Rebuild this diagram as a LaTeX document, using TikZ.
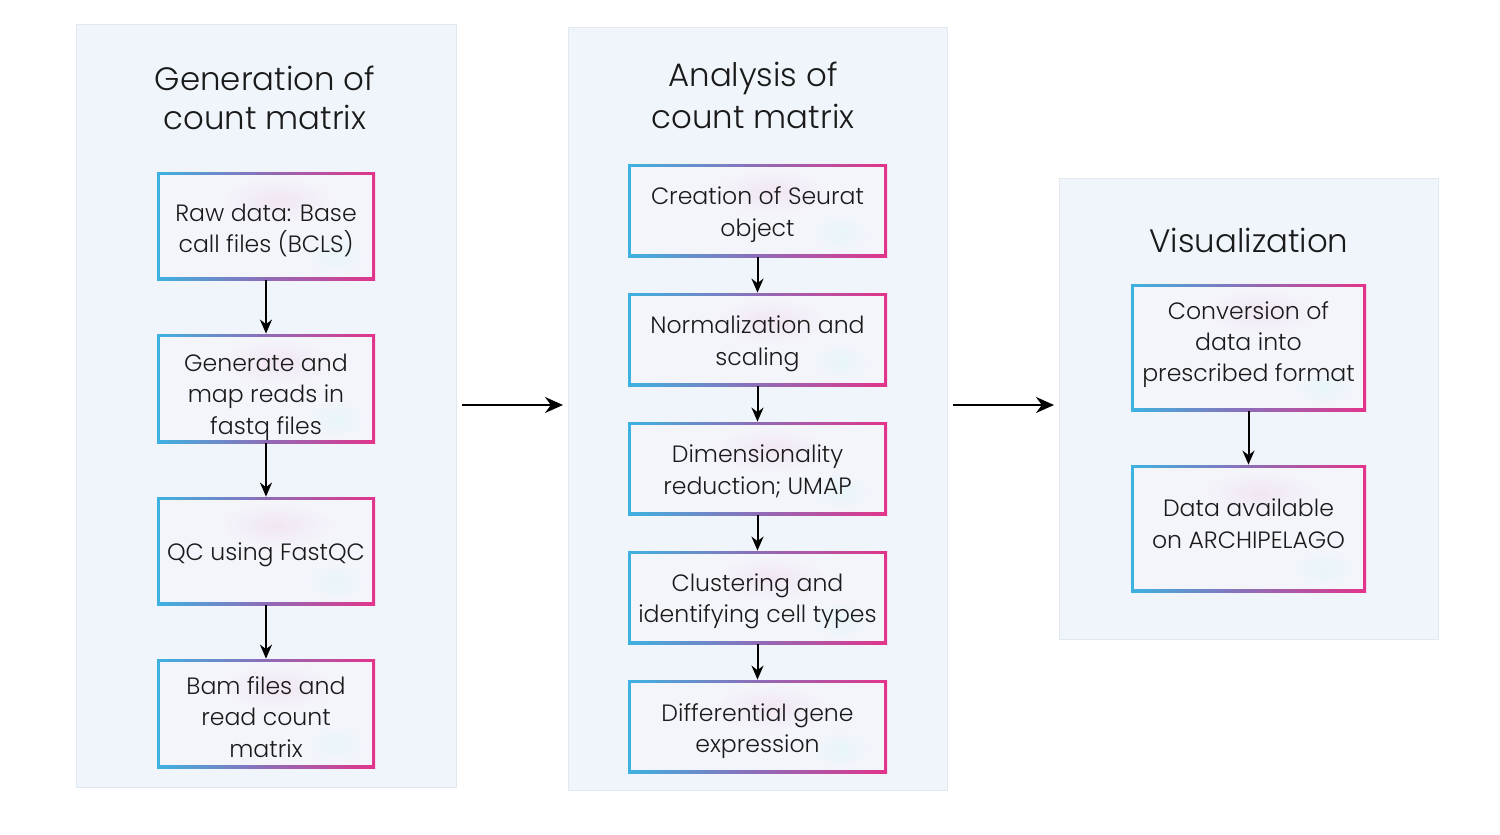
\documentclass[tikz,border=0pt]{standalone}
\usepackage{fontspec}
\setmainfont{Poppins}[UprightFont=* Light]
\usetikzlibrary{arrows.meta,calc}
\definecolor{gbl}{HTML}{3DB2E0}
\definecolor{gbm}{HTML}{8E6CB8}
\definecolor{gbr}{HTML}{E2348A}
\definecolor{panelfill}{HTML}{F0F5FC}
\definecolor{paneldraw}{HTML}{E2E8F0}
\definecolor{boxfill}{HTML}{F4F5FB}
\definecolor{blotp}{HTML}{F1E6F3}
\definecolor{blotc}{HTML}{E7F5F9}
\definecolor{txt}{HTML}{1A1A1A}
\newcommand\dnsh[1]{\rule{0pt}{\dimexpr 9.2pt+2\dimexpr #1\relax\relax}}
\newcommand\upsh[1]{\rule[-\dimexpr 3pt+2\dimexpr #1\relax\relax]{0pt}{0pt}}
\tikzset{
  panel/.style={fill=panelfill,draw=paneldraw,line width=0.5pt},
  ptitle/.style={text=txt,font=\fontsize{16.2}{19.8}\selectfont,align=center,inner sep=0pt},
  gbox/.style={left color=gbl,right color=gbr,middle color=gbm,inner sep=0pt,
    text=txt,font=\fontsize{11.8}{15.7}\selectfont,align=center,
    path picture={
      \fill[boxfill] ([shift={(1.5pt,1.5pt)}]path picture bounding box.south west) rectangle ([shift={(-1.5pt,-1.5pt)}]path picture bounding box.north east);
      \shade[inner color=blotp,outer color=boxfill] ($(path picture bounding box.north west)!0.55!(path picture bounding box.north east)+(0,-14pt)$) ellipse [x radius=30pt,y radius=12pt];
      \shade[inner color=blotc,outer color=boxfill] ($(path picture bounding box.south west)!0.82!(path picture bounding box.south east)+(0,12pt)$) ellipse [x radius=16pt,y radius=10pt];
      }},
  flow/.style={draw=black,line width=1pt,-{Stealth[length=7pt,width=6pt]}},
  bigflow/.style={draw=black,line width=1pt,-{Stealth[length=9pt,width=8pt]}}
}
\begin{document}
\begin{tikzpicture}[x=0.5pt,y=-0.5pt]
\useasboundingbox (0,0) rectangle (1500,835);
\fill[white] (0,0) rectangle (1500,835);
% panels
\draw[panel] (76,24) rectangle (456,787);
\draw[panel] (568,27) rectangle (947,790);
\draw[panel] (1059,178) rectangle (1438,639);
% titles
\node[ptitle] (t1) at (265,98) {Generation of\\count matrix};
\node[ptitle,font=\fontsize{16.2}{21}\selectfont] (t2) at (753,95) {Analysis of\\count matrix};
\node[ptitle] (t3) at (1249,240.5) {Visualization};
% panel 1 boxes
\node[gbox,minimum width=109pt,minimum height=54pt] (a1) at (266,226) {\dnsh{2pt}Raw data: Base\\call files (BCLS)};
\node[gbox,minimum width=109pt,minimum height=54.5pt] (a2) at (266,388.5) {\dnsh{4pt}Generate and\\map reads in\\fastq files};
\node[gbox,minimum width=109pt,minimum height=54pt] (a3) at (266,551) {\dnsh{1.5pt}QC using FastQC};
\node[gbox,minimum width=109pt,minimum height=54.5pt] (a4) at (266,713.5) {\dnsh{1.5pt}Bam files and\\read count\\matrix};
% panel 2 boxes
\node[gbox,minimum width=129.5pt,minimum height=46.5pt] (b1) at (757.5,210.5) {\dnsh{2pt}Creation of Seurat\\object};
\node[gbox,minimum width=129.5pt,minimum height=46.5pt] (b2) at (757.5,339.5) {\dnsh{2pt}Normalization and\\scaling};
\node[gbox,minimum width=129.5pt,minimum height=46.5pt] (b3) at (757.5,468.5) {\dnsh{1.3pt}Dimensionality\\reduction; UMAP};
\node[gbox,minimum width=129.5pt,minimum height=46.5pt] (b4) at (757.5,597.5) {\dnsh{1.8pt}Clustering and\\identifying cell types};
\node[gbox,minimum width=129.5pt,minimum height=46.5pt] (b5) at (757.5,726.5) {\dnsh{2.2pt}Differential gene\\expression};
% panel 3 boxes
\node[gbox,minimum width=117.5pt,minimum height=63.5pt] (c1) at (1248.5,347.5) {Conversion of\\data into\\prescribed format\upsh{1.5pt}};
\node[gbox,minimum width=117.5pt,minimum height=63.5pt] (c2) at (1248.5,528.5) {Data available\\on ARCHIPELAGO\upsh{1pt}};
% arrows
\draw[flow] (a1) -- (a2);
\draw[flow] (a2) -- (a3);
\draw[flow] (a3) -- (a4);
\draw[flow] (b1) -- (b2);
\draw[flow] (b2) -- (b3);
\draw[flow] (b3) -- (b4);
\draw[flow] (b4) -- (b5);
\draw[flow] (c1) -- (c2);
\coordinate (p1e) at (462,405);
\coordinate (p2s) at (563,405);
\coordinate (p2e) at (953,405);
\coordinate (p3s) at (1054,405);
\draw[bigflow] (p1e) -- (p2s);
\draw[bigflow] (p2e) -- (p3s);
\end{tikzpicture}
\end{document}
